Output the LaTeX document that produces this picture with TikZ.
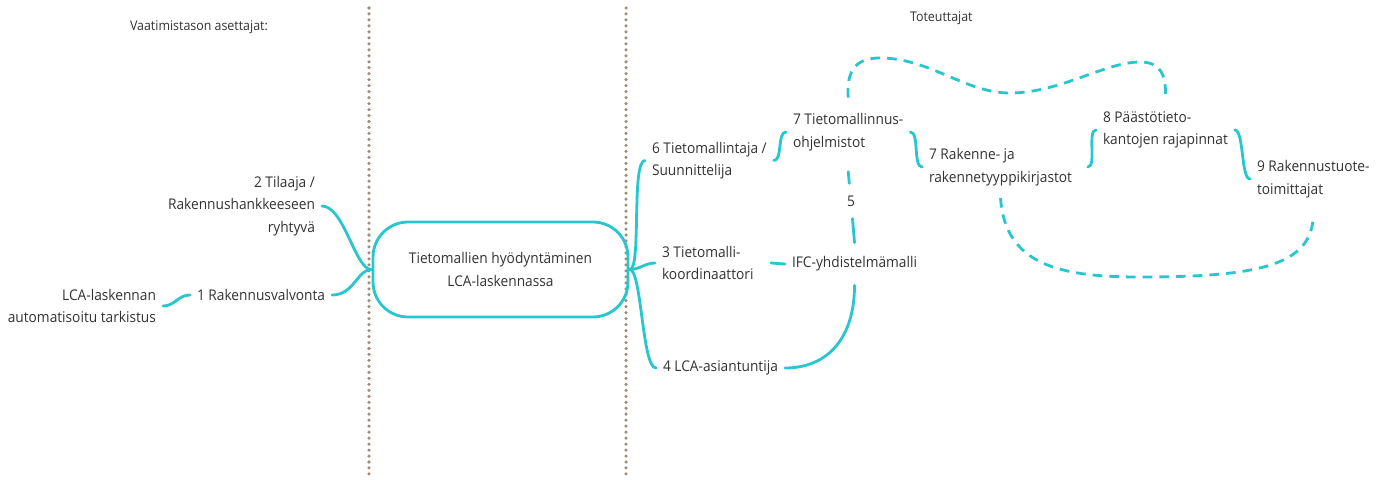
\documentclass[tikz,border=0pt]{standalone}
\usepackage{fontspec}
\setmainfont{Open Sans}[FakeStretch=0.93]
\usetikzlibrary{arrows}

\definecolor{linkcyan}{RGB}{40,198,207}
\definecolor{sepbrown}{RGB}{160,142,115}
\definecolor{txtgray}{RGB}{50,50,50}
\newcommand{\mapfont}{\fontsize{8.4pt}{12.8pt}\selectfont}
\newcommand{\headfont}{\fontsize{7.6pt}{11pt}\selectfont}

\tikzstyle{lbl}=[font=\mapfont,text=txtgray,inner sep=0pt,outer sep=4pt]
\tikzstyle{head}=[lbl,font=\headfont]
\tikzstyle{link}=[draw=linkcyan,line width=1.6pt,line cap=round]
\tikzstyle{dlink}=[link,line cap=butt,dash pattern=on 5.5pt off 4pt]
\tikzstyle{divider}=[draw=sepbrown,line width=2pt,line cap=round,dash pattern=on 0pt off 3.4pt]
\tikzstyle{hub}=[draw=linkcyan,line width=1.6pt,rounded corners=0.7cm,minimum width=5.1cm,minimum height=1.9cm,align=center,font=\mapfont,text=txtgray,outer sep=1pt]

\begin{document}
\begin{tikzpicture}[x=0.02cm,y=-0.02cm]

\useasboundingbox (0,0) rectangle (1389,480);

%%% Dividers

\draw[divider] (369,8) -- (369,478);
\draw[divider] (626,8) -- (626,478);

%%% Headings

\node[head,anchor=west] (hleft) at (123,27) {Vaatimistason asettajat:};
\node[head,anchor=west] (hright) at (903,18) {Toteuttajat};

%%% Centre

\node[hub] (core) at (500.5,269.5) {Tietomallien hyödyntäminen\\LCA-laskennassa};

%%% Left side

\node[lbl,anchor=east,align=right] (tilaaja) at (322,206)
{2 Tilaaja /\\Rakennushankkeeseen\\ryhtyvä};

\node[lbl,anchor=west] (valvonta) at (190,295) {1 Rakennusvalvonta};

\node[lbl,anchor=east,align=right] (tarkistus) at (163,306)
{LCA-laskennan\\automatisoitu tarkistus};

\draw[link] (tarkistus.east) .. controls +(12,0) and +(-12,0) .. (valvonta.west);
\draw[link] (valvonta.east) .. controls +(22,0) and +(-14,0) .. (core.west);
\draw[link] (tilaaja.east) .. controls +(22,0) and +(-16,0) .. (core.west);

%%% Right side

\node[lbl,anchor=west,align=left] (mallintaja) at (645,160.5)
{6 Tietomallintaja /\\Suunnittelija};

\node[lbl,anchor=west,align=left] (koordinaattori) at (655,263)
{3 Tietomalli-\\koordinaattori};

\node[lbl,anchor=west] (asiantuntija) at (656,368) {4 LCA-asiantuntija};

\node[lbl,anchor=west] (ifc) at (785,264) {IFC-yhdistelmämalli};

\node[lbl,anchor=west,align=left] (ohjelmistot) at (786,132)
{7 Tietomallinnus-\\ohjelmistot};

\node[lbl,inner sep=3pt] (viisi) at (851,201) {5};

\node[lbl,anchor=west,align=left] (kirjastot) at (922,167)
{7 Rakenne- ja\\rakennetyyppikirjastot};

\node[lbl,anchor=west,align=left] (rajapinnat) at (1096,130)
{8 Päästötieto-\\kantojen rajapinnat};

\node[lbl,anchor=west,align=left] (toimittajat) at (1250,179)
{9 Rakennustuote-\\toimittajat};

% from the centre

\draw[link] (core.east) .. controls +(12,0) and +(-14,0) .. (mallintaja.west);
\draw[link] (core.east) .. controls +(10,0) and +(-10,0) .. (koordinaattori.west);
\draw[link] (core.east) .. controls +(12,0) and +(-14,0) .. (asiantuntija.west);

% chain

\draw[link] (mallintaja.east) .. controls +(9,0) and +(-9,0) .. (ohjelmistot.west);
\draw[link] (ohjelmistot.east) .. controls +(9,0) and +(-9,0) .. (kirjastot.west);
\draw[link] ([xshift=5pt]kirjastot.east) .. controls +(9,0) and +(-9,0) .. (rajapinnat.west);
\draw[link] (rajapinnat.east) .. controls +(9,0) and +(-9,0) .. (toimittajat.west);

\draw[link] ([xshift=6pt]koordinaattori.east) -- (ifc.west);
\draw[link] ([yshift=-8pt]ohjelmistot.south) -- (viisi) -- ([yshift=4pt]ifc.north);
\draw[link] ([yshift=-4pt]ifc.south) .. controls +(0,50) and +(45,0) .. (asiantuntija.east);

% dashed loops

\draw[dlink] ([yshift=5pt]ohjelmistot.north)
.. controls (846,68) and (858,58) .. (880,58)
.. controls (930,58) and (965,93) .. (1010,93)
.. controls (1060,93) and (1105,62) .. (1140,62)
.. controls (1160,62) and (1166,74) .. ([yshift=5pt]rajapinnat.north);

\draw[dlink] ([yshift=-3pt]kirjastot.south)
.. controls (1005,265) and (1060,277) .. (1140,277)
.. controls (1260,277) and (1312,265) .. ([yshift=-6pt]toimittajat.south);

\end{tikzpicture}
\end{document}
